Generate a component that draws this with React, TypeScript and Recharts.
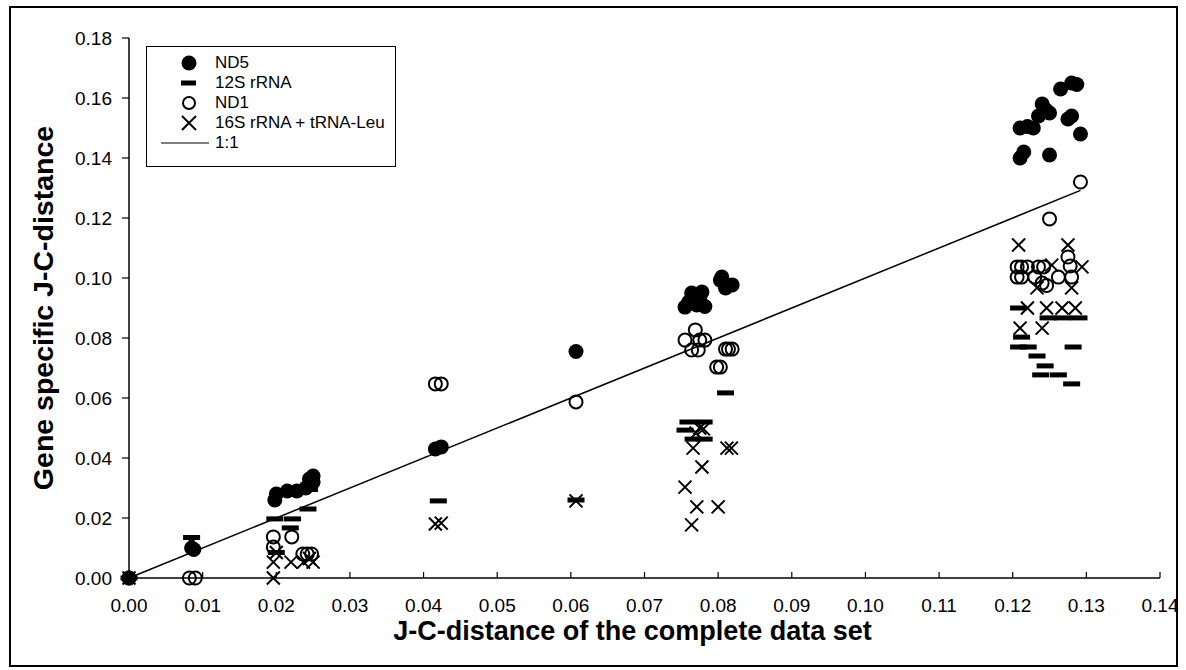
import React from "react";
import { ScatterChart, Scatter, XAxis, YAxis } from "recharts";

// axis ticks
const xTicks = [0, 0.01, 0.02, 0.03, 0.04, 0.05, 0.06, 0.07, 0.08, 0.09, 0.1, 0.11, 0.12, 0.13, 0.14];
const yTicks = [0, 0.02, 0.04, 0.06, 0.08, 0.1, 0.12, 0.14, 0.16, 0.18];

// [J-C-distance complete set, gene specific J-C-distance]
const nd5 = [
    [0, 0], [0.0085, 0.01], [0.0088, 0.0095],
    [0.0198, 0.026], [0.02, 0.028], [0.0215, 0.029], [0.0228, 0.029], [0.024, 0.03], [0.0245, 0.033], [0.025, 0.034], [0.025, 0.032],
    [0.0416, 0.043], [0.0424, 0.0437],
    [0.0607, 0.0755],
    [0.0755, 0.0903], [0.0764, 0.095], [0.0771, 0.091], [0.0778, 0.0953], [0.0782, 0.0905], [0.076, 0.092], [0.0775, 0.0935],
    [0.0803, 0.0993], [0.0805, 0.1003], [0.081, 0.0967], [0.0819, 0.0977],
    [0.121, 0.14], [0.1215, 0.142], [0.121, 0.15], [0.122, 0.1505], [0.1228, 0.15], [0.1235, 0.154], [0.124, 0.158],
    [0.1245, 0.156], [0.125, 0.155], [0.125, 0.141], [0.1265, 0.163], [0.1275, 0.153], [0.128, 0.154], [0.128, 0.165],
    [0.1287, 0.1645], [0.1292, 0.148],
];

const rrna12s = [
    [0, 0], [0.0085, 0.0135],
    [0.0198, 0.0197], [0.0222, 0.0197], [0.0219, 0.0167], [0.0243, 0.023], [0.0245, 0.0295], [0.02, 0.0085],
    [0.042, 0.0257],
    [0.0607, 0.026],
    [0.0759, 0.052], [0.0781, 0.052], [0.0755, 0.0493], [0.0766, 0.0463], [0.0781, 0.0463], [0.081, 0.0617],
    [0.1208, 0.09], [0.1248, 0.0867], [0.1268, 0.0867], [0.129, 0.0867], [0.1212, 0.0803], [0.1208, 0.077], [0.1221, 0.077],
    [0.1282, 0.077], [0.1233, 0.074], [0.1244, 0.0707], [0.1238, 0.0677], [0.1262, 0.0677], [0.128, 0.0647],
];

const nd1 = [
    [0, 0], [0.0082, 0], [0.009, 0],
    [0.0196, 0.0137], [0.0196, 0.0103], [0.0221, 0.0137], [0.0236, 0.008], [0.0242, 0.008], [0.0248, 0.008],
    [0.0416, 0.0647], [0.0424, 0.0647],
    [0.0607, 0.0587],
    [0.0755, 0.0793], [0.0769, 0.0827], [0.0775, 0.0793], [0.0782, 0.0793], [0.0764, 0.076], [0.0773, 0.076],
    [0.081, 0.0763], [0.0814, 0.0763], [0.0819, 0.0763], [0.0798, 0.0703], [0.0803, 0.0703],
    [0.1292, 0.132], [0.125, 0.1197],
    [0.1206, 0.1037], [0.1212, 0.1037], [0.122, 0.1037], [0.1235, 0.1037], [0.1242, 0.1037], [0.1206, 0.1003],
    [0.1212, 0.1003], [0.123, 0.1003], [0.1262, 0.1003], [0.128, 0.1003], [0.1275, 0.107], [0.124, 0.0983],
    [0.1246, 0.0975], [0.1278, 0.104],
];

const rrna16s = [
    [0, 0], [0.0085, 0.012],
    [0.0196, 0.0053], [0.022, 0.0053], [0.0237, 0.0053], [0.025, 0.0053], [0.0196, 0], [0.02, 0.0085], [0.0245, 0.0065],
    [0.0416, 0.018], [0.0424, 0.0183],
    [0.0607, 0.0257],
    [0.0766, 0.0433], [0.0812, 0.0433], [0.0818, 0.0433], [0.0778, 0.037], [0.0755, 0.0303], [0.0771, 0.0237],
    [0.08, 0.0237], [0.0764, 0.0177], [0.0775, 0.05], [0.078, 0.0497], [0.077, 0.0483],
    [0.1208, 0.111], [0.1275, 0.111], [0.1294, 0.1037], [0.1253, 0.1043], [0.1233, 0.0967], [0.128, 0.0967],
    [0.122, 0.09], [0.1246, 0.09], [0.1267, 0.09], [0.1285, 0.09], [0.121, 0.0833], [0.124, 0.0833],
];

const oneToOne = [[0, 0], [0.1292, 0.1292]];

const toPts = (arr: number[][]) => arr.map(([x, y]) => ({ x, y }));

const FONT = "'Liberation Sans', Arial, sans-serif";

// marker shapes
const Dot = (p: any) => <circle cx={p.cx} cy={p.cy} r={7.5} fill="#000" />;
const Ring = (p: any) => <circle cx={p.cx} cy={p.cy} r={6.5} fill="none" stroke="#000" strokeWidth={2} />;
const Dash = (p: any) => <rect x={p.cx - 8.5} y={p.cy - 2.5} width={17} height={5} fill="#000" />;
const Cross = (p: any) => (
    <path
        d={`M${p.cx - 6.5},${p.cy - 6.5}L${p.cx + 6.5},${p.cy + 6.5}M${p.cx + 6.5},${p.cy - 6.5}L${p.cx - 6.5},${p.cy + 6.5}`}
        stroke="#000"
        strokeWidth={2}
    />
);
const NoDot = () => <g />;

// x ticks point up into the plot
const XTick = ({ x, y, payload }: any) => (
    <g>
        <line x1={x} x2={x} y1={y - 6} y2={y} stroke="#000" strokeWidth={1.2} />
        <text x={x} y={y + 34} textAnchor="middle" fontSize={19} fill="#000" fontFamily={FONT}>
            {Number(payload.value).toFixed(2)}
        </text>
    </g>
);

const legendItems = [
    { label: "ND5", icon: <circle cx={10} cy={10} r={7.5} fill="#000" /> },
    { label: "12S rRNA", icon: <rect x={2} y={7.5} width={15} height={5} fill="#000" /> },
    { label: "ND1", icon: <circle cx={10} cy={10} r={6} fill="none" stroke="#000" strokeWidth={2} /> },
    { label: "16S rRNA + tRNA-Leu", icon: <path d="M3,3L17,17M17,3L3,17" stroke="#000" strokeWidth={2} /> },
];

export default function App() {
    return (
        <div style={{ position: "absolute", left: 0, top: 0, width: 1186, height: 670, background: "#fff", fontFamily: FONT }}>
            {/* outer frame */}
            <div style={{ position: "absolute", left: 9, top: 6, width: 1169, height: 661, border: "2px solid #000", boxSizing: "border-box" }} />

            <ScatterChart width={1186} height={670} margin={{ top: 38, right: 26, bottom: 22, left: 0 }} style={{ position: "absolute", left: 0, top: 0 }}>
                <XAxis
                    type="number"
                    dataKey="x"
                    domain={[0, 0.14]}
                    ticks={xTicks}
                    interval={0}
                    height={70}
                    tickSize={0}
                    tickMargin={0}
                    tickLine={false}
                    tick={<XTick />}
                    axisLine={{ stroke: "#000", strokeWidth: 1.5 }}
                    label={{
                        value: "J-C-distance of the complete data set",
                        position: "insideBottom",
                        offset: 8,
                        dx: -12,
                        style: { fontSize: 27, fontWeight: "bold", fill: "#000", fontFamily: FONT },
                    }}
                />
                <YAxis
                    type="number"
                    dataKey="y"
                    domain={[0, 0.18]}
                    ticks={yTicks}
                    interval={0}
                    width={129}
                    tickSize={7}
                    tickMargin={10}
                    tickFormatter={(v: number) => v.toFixed(2)}
                    tick={{ fontSize: 19, fill: "#000", fontFamily: FONT }}
                    tickLine={{ stroke: "#000", strokeWidth: 1.2 }}
                    axisLine={{ stroke: "#000", strokeWidth: 1.5 }}
                    label={{
                        value: "Gene specific J-C-distance",
                        angle: -90,
                        position: "insideLeft",
                        offset: 43,
                        style: { fontSize: 28.5, fontWeight: "bold", fill: "#000", textAnchor: "middle", fontFamily: FONT },
                    }}
                />
                <Scatter data={toPts(oneToOne)} line={{ stroke: "#000", strokeWidth: 1.5 }} shape={NoDot} isAnimationActive={false} />
                <Scatter data={toPts(nd5)} shape={Dot} isAnimationActive={false} />
                <Scatter data={toPts(nd1)} shape={Ring} isAnimationActive={false} />
                <Scatter data={toPts(rrna16s)} shape={Cross} isAnimationActive={false} />
                <Scatter data={toPts(rrna12s)} shape={Dash} isAnimationActive={false} />
            </ScatterChart>

            {/* legend box */}
            <div
                style={{
                    position: "absolute",
                    left: 146,
                    top: 46,
                    width: 250,
                    height: 121,
                    border: "1.5px solid #000",
                    boxSizing: "border-box",
                    background: "#fff",
                    paddingTop: 6,
                }}
            >
                {legendItems.map((it) => (
                    <div key={it.label} style={{ display: "flex", alignItems: "center", height: 20, fontSize: 17 }}>
                        <svg width={20} height={20} style={{ marginLeft: 32, marginRight: 16 }}>
                            {it.icon}
                        </svg>
                        <span>{it.label}</span>
                    </div>
                ))}
                <div style={{ display: "flex", alignItems: "center", height: 20, fontSize: 17 }}>
                    <svg width={50} height={20} style={{ marginLeft: 12, marginRight: 6 }}>
                        <line x1={2} x2={50} y1={10} y2={10} stroke="#000" strokeWidth={1.2} />
                    </svg>
                    <span>1:1</span>
                </div>
            </div>
        </div>
    );
}
